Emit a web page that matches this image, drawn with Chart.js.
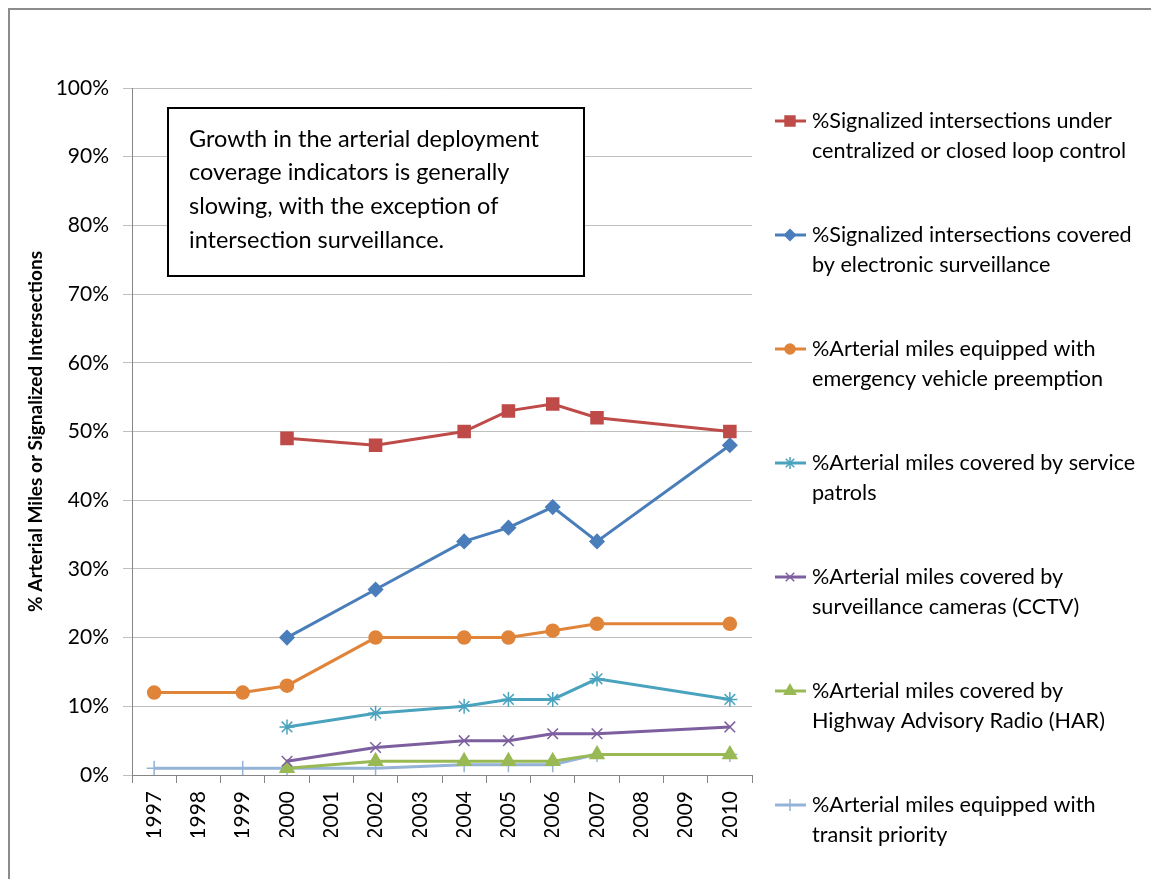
<!DOCTYPE html>
<html>
<head>
<meta charset="utf-8">
<script src="https://cdn.jsdelivr.net/npm/chart.js@4/dist/chart.umd.min.js"></script>
<style>
html, body { margin: 0; padding: 0; background: #fff; }
#wrap { position: relative; width: 1151px; height: 879px; }
</style>
</head>
<body>
<div id="wrap"><canvas id="chart" width="1151" height="879"></canvas></div>
<script>
var years = ['1997', '1998', '1999', '2000', '2001', '2002', '2003', '2004', '2005', '2006', '2007', '2008', '2009', '2010'];

var centralized = [null, null, null, 49, null, 48, null, 50, 53, 54, 52, null, null, 50];
var surveillance = [null, null, null, 20, null, 27, null, 34, 36, 39, 34, null, null, 48];
var preemption = [12, null, 12, 13, null, 20, null, 20, 20, 21, 22, null, null, 22];
var patrols = [null, null, null, 7, null, 9, null, 10, 11, 11, 14, null, null, 11];
var cctv = [null, null, null, 2, null, 4, null, 5, 5, 6, 6, null, null, 7];
var har = [null, null, null, 1, null, 2, null, 2, 2, 2, 3, null, null, 3];
var transit = [1, null, 1, 1, null, 1, null, 1.5, 1.5, 1.5, 3, null, null, 3];

var seriesNames = [
	['%Signalized intersections under', 'centralized or closed loop control'],
	['%Signalized intersections covered', 'by electronic surveillance'],
	['%Arterial miles equipped with', 'emergency vehicle preemption'],
	['%Arterial miles covered by service', 'patrols'],
	['%Arterial miles covered by', 'surveillance cameras (CCTV)'],
	['%Arterial miles covered by', 'Highway Advisory Radio (HAR)'],
	['%Arterial miles equipped with', 'transit priority']
];
var yTitle = '% Arterial Miles or Signalized Intersections';
var noteLines = [
	'Growth in the arterial deployment',
	'coverage indicators is generally',
	'slowing, with the exception of',
	'intersection surveillance.'
];

var FONT = 'Lato, "Open Sans", sans-serif';

function serie(label, data, color, style, radius) {
	return {
		label : label.join(' '),
		data : data,
		borderColor : color,
		backgroundColor : color,
		pointBackgroundColor : color,
		pointBorderColor : color,
		pointStyle : style,
		pointRadius : radius,
		pointBorderWidth : 1.5,
		borderWidth : 3,
		spanGaps : true,
		tension : 0
	};
}

var datasets = [
	serie(seriesNames[0], centralized, '#BE4B48', 'rect', 8.5),
	serie(seriesNames[1], surveillance, '#4A7EBB', 'rectRot', 7),
	serie(seriesNames[2], preemption, '#E0843A', 'circle', 6.5),
	serie(seriesNames[3], patrols, '#4AA3BE', 'star', 7.5),
	serie(seriesNames[4], cctv, '#7D5FA0', 'crossRot', 7.5),
	serie(seriesNames[5], har, '#98B954', 'triangle', 8),
	serie(seriesNames[6], transit, '#94B3D6', 'cross', 7.5)
];

// frame, text box and legend
var extras = {
	id : 'extras',
	beforeDraw : function(chart) {
		var ctx = chart.ctx;
		ctx.save();
		ctx.strokeStyle = '#8c8c8c';
		ctx.lineWidth = 2;
		ctx.strokeRect(9, 9, 1300, 1000);
		ctx.restore();
	},
	afterDatasetsDraw : function(chart) {
		var ctx = chart.ctx;
		ctx.save();
		ctx.fillStyle = '#fff';
		ctx.fillRect(168, 108, 416, 168);
		ctx.strokeStyle = '#000';
		ctx.lineWidth = 2;
		ctx.strokeRect(168, 108, 416, 168);
		ctx.fillStyle = '#000';
		ctx.font = '23.5px ' + FONT;
		ctx.textBaseline = 'middle';
		for (var i = 0; i < noteLines.length; i++) {
			ctx.fillText(noteLines[i], 189, 139 + i * 33.7);
		}
		ctx.restore();
	},
	afterDraw : function(chart) {
		var ctx = chart.ctx;
		ctx.save();
		for (var i = 0; i < datasets.length; i++) {
			var d = datasets[i];
			var y = 121 + i * 114;
			ctx.strokeStyle = d.borderColor;
			ctx.lineWidth = 3;
			ctx.beginPath();
			ctx.moveTo(775, y);
			ctx.lineTo(806, y);
			ctx.stroke();
			ctx.fillStyle = d.borderColor;
			ctx.lineWidth = 1.5;
			Chart.helpers.drawPoint(ctx, {
				pointStyle : d.pointStyle,
				radius : d.pointRadius - 1.5,
				borderWidth : 1.5,
				rotation : 0
			}, 790, y);
			ctx.fillStyle = '#000';
			ctx.font = '21.6px ' + FONT;
			ctx.textBaseline = 'middle';
			ctx.fillText(seriesNames[i][0], 812, y);
			ctx.fillText(seriesNames[i][1], 812, y + 30);
		}
		ctx.restore();
	}
};

var ctx = document.getElementById('chart').getContext('2d');
var myChart = new Chart(ctx, {
	type : 'line',
	data : {
		labels : years,
		datasets : datasets
	},
	options : {
		responsive : false,
		animation : false,
		layout : {
			padding : { left : 8, right : 399, top : 88, bottom : 42 }
		},
		plugins : {
			legend : { display : false },
			tooltip : { enabled : false }
		},
		scales : {
			x : {
				offset : true,
				grid : {
					offset : true,
					drawOnChartArea : false,
					drawTicks : true,
					tickLength : 8,
					color : '#868686'
				},
				border : { color : '#868686', width : 1 },
				ticks : {
					minRotation : 90,
					maxRotation : 90,
					autoSkip : false,
					padding : 8,
					color : '#000',
					font : { family : FONT, size : 21 }
				},
				afterFit : function(s) { s.height = 62; }
			},
			y : {
				min : 0,
				max : 100,
				grid : {
					color : '#BFBFBF',
					tickLength : 9
				},
				border : { color : '#868686', width : 1 },
				ticks : {
					stepSize : 10,
					padding : 14,
					color : '#000',
					font : { family : FONT, size : 21 },
					callback : function(v) { return v + '%'; }
				},
				title : {
					display : true,
					text : yTitle,
					color : '#000',
					padding : { top : 16, bottom : 0 },
					font : { family : FONT, size : 19, weight : 'bold' }
				},
				afterFit : function(s) { s.width = 124; }
			}
		}
	},
	plugins : [ extras ]
});
</script>
</body>
</html>
